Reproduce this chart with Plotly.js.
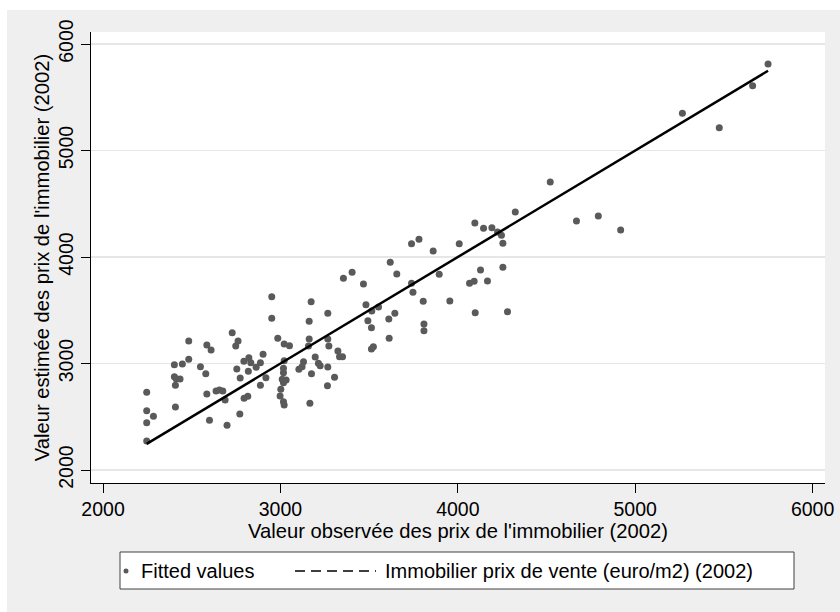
<!DOCTYPE html>
<html>
<head>
<meta charset="utf-8">
<script src="https://cdn.plot.ly/plotly-3.0.1.min.js"></script>
<style>
  html, body { margin: 0; padding: 0; background: #ffffff; width: 840px; height: 612px; overflow: hidden; }
  #chart { position: absolute; left: 7px; top: 10px; width: 833px; height: 602px; }
</style>
</head>
<body>
<div id="chart"></div>
<script>
// Observed price (x) and estimated/fitted price (y), euro/m2, 2002
const observed = [
  2246, 2246, 2284, 2246, 2246, 2408, 2408, 2402, 2412, 2434,
  2402, 2447, 2483, 2483, 2549, 2579, 2585, 2609, 2585, 2637,
  2656, 2675, 2688, 2600, 2699, 2771, 2728, 2761, 2748, 2754,
  2773, 2794, 2822, 2833, 2863, 2887, 2902, 2819, 2795, 2816,
  2887, 2918, 2951, 2951, 2985, 3021, 3051, 3021, 3017, 3017,
  3010, 3032, 3017, 3002, 2998, 3017, 3021, 3104, 3122, 3130,
  3196, 3214, 3224, 3267, 3175, 3305, 3265, 3166, 3173, 3162,
  3162, 3158, 3267, 3267, 3273, 3324, 3333, 3350, 3355, 3404,
  3468, 3482, 3515, 3553, 3493, 3513, 3513, 3524, 3613, 3611,
  3645, 3619, 3656, 3739, 3747, 3805, 3809, 3809, 3739, 3781,
  3861, 3895, 3955, 4008, 4066, 4092, 4167, 4128, 4254, 4098,
  4280, 4096, 4145, 4192, 4224, 4246, 4254, 4324, 4521, 4669,
  4792, 4918, 5266, 5474, 5662, 5749
];
const fitted = [
  2272, 2444, 2504, 2557, 2730, 2592, 2795, 2876, 2857, 2854,
  2989, 2995, 3039, 3211, 2970, 2904, 3174, 3127, 2714, 2742,
  2751, 2742, 2657, 2467, 2420, 2526, 3289, 3211, 3164, 2948,
  2864, 3021, 3054, 3008, 2964, 3008, 3086, 2927, 2673, 2692,
  2795, 2867, 3627, 3424, 3237, 3183, 3167, 3026, 2955, 2914,
  2852, 2845, 2820, 2758, 2695, 2641, 2610, 2946, 2970, 3017,
  3061, 3002, 2979, 2967, 2904, 2870, 2792, 2626, 3580, 3396,
  3230, 3164, 3471, 3230, 3164, 3117, 3064, 3064, 3800, 3856,
  3747, 3552, 3493, 3531, 3402, 3336, 3136, 3158, 3237, 3418,
  3471, 3950, 3840, 3753, 3669, 3584, 3371, 3308, 4125, 4166,
  4056, 3838, 3587, 4125, 3753, 3772, 3775, 3878, 3903, 3477,
  3486, 4319, 4270, 4275, 4235, 4204, 4129, 4423, 4704, 4338,
  4385, 4254, 5349, 5214, 5609, 5812
];
const tickVals = [2000, 3000, 4000, 5000, 6000];
const tickText = ["2000", "3000", "4000", "5000", "6000"];
const seriesNames = ["Fitted values", "Immobilier prix de vente (euro/m2) (2002)"];
const xTitle = "Valeur observée des prix de l'immobilier (2002)";
const yTitle = "Valeur estimée des prix de l'immobilier (2002)";

// Line: observed price against itself (sorted)
const lineX = observed.slice().sort((a, b) => a - b);
const lineY = lineX.slice();

const FONT = "Liberation Sans, Arial, sans-serif";

// Layout geometry (div offset 7,10; margins below)
const M = { l: 84, r: 15, t: 22, b: 129 };
const W = 833, H = 602;
const PW = W - M.l - M.r, PH = H - M.t - M.b;
const px = (x) => (x - 7 - M.l) / PW;          // page px -> paper x
const py = (y) => (H - M.b - (y - 10)) / PH;   // page px -> paper y

const traces = [
  {
    type: "scatter", mode: "markers",
    x: observed, y: fitted,
    name: seriesNames[0],
    marker: { color: "#5a5a5a", size: 7 }
  },
  {
    type: "scatter", mode: "lines",
    x: lineX, y: lineY,
    name: seriesNames[1],
    line: { color: "#000000", width: 2.5 }
  }
];

// Stata-style legend box drawn below the plot
const legY = 571;
const shapes = [
  { type: "rect", xref: "paper", yref: "paper",
    x0: px(120), x1: px(794), y0: py(589), y1: py(552),
    fillcolor: "#ffffff", line: { color: "#404040", width: 1 } },
  { type: "circle", xref: "paper", yref: "paper",
    x0: px(123.5), x1: px(128.5), y0: py(573.5), y1: py(568.5),
    fillcolor: "#5a5a5a", line: { width: 0 } },
  { type: "line", xref: "paper", yref: "paper",
    x0: px(295), x1: px(376), y0: py(legY), y1: py(legY),
    line: { color: "#000000", width: 1.5, dash: "10px,6px" } }
];
const annotations = [
  { xref: "paper", yref: "paper", x: px(139), y: py(legY),
    xanchor: "left", yanchor: "middle", showarrow: false,
    text: seriesNames[0], font: { family: FONT, size: 20, color: "#000000" } },
  { xref: "paper", yref: "paper", x: px(383), y: py(legY),
    xanchor: "left", yanchor: "middle", showarrow: false,
    text: seriesNames[1], font: { family: FONT, size: 20, color: "#000000" } }
];

const layout = {
  width: W, height: H,
  paper_bgcolor: "#efefef",
  plot_bgcolor: "#ffffff",
  margin: { l: M.l, r: M.r, t: M.t, b: M.b, pad: 0 },
  font: { family: FONT, size: 20, color: "#000000" },
  showlegend: false,
  xaxis: {
    range: [1932, 6070],
    tickmode: "array", tickvals: tickVals, ticktext: tickText,
    ticks: "outside", ticklen: 9, tickwidth: 1, tickcolor: "#000000",
    showline: true, linecolor: "#000000", linewidth: 1,
    showgrid: false, zeroline: false,
    tickfont: { family: FONT, size: 19.5, color: "#000000" },
    title: { text: xTitle, font: { family: FONT, size: 20.2, color: "#000000" }, standoff: 2 },
    automargin: false
  },
  yaxis: {
    range: [1878, 6113],
    tickmode: "array", tickvals: tickVals, ticktext: tickText,
    tickangle: -90,
    ticks: "outside", ticklen: 9, tickwidth: 1, tickcolor: "#000000",
    showline: true, linecolor: "#000000", linewidth: 1,
    showgrid: true, gridcolor: "#e6e6e6", gridwidth: 1.5,
    zeroline: false,
    tickfont: { family: FONT, size: 19.5, color: "#000000" },
    title: { text: yTitle, font: { family: FONT, size: 20.2, color: "#000000" }, standoff: 0 },
    automargin: false
  },
  shapes: shapes,
  annotations: annotations,
  hovermode: false
};

Plotly.newPlot("chart", traces, layout, { displayModeBar: false, staticPlot: true });
</script>
</body>
</html>
